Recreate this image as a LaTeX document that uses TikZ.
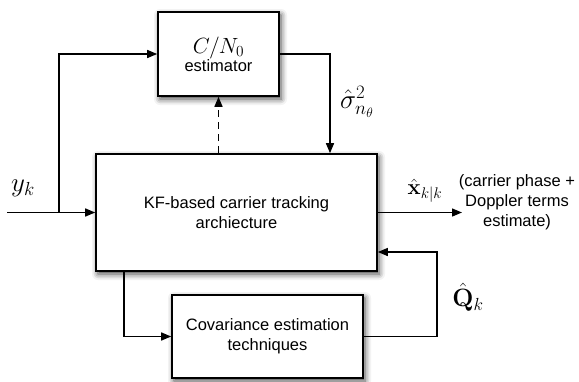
\documentclass[tikz,border=0pt]{standalone}
\usepackage{fix-cm}
\usepackage[no-math]{fontspec}
\setmainfont{Liberation Sans}
\usepackage{amsmath}
\usetikzlibrary{arrows.meta,shadows.blur}

\tikzset{
  block/.style={draw, line width=1.6pt, fill=white, inner sep=0pt,
    align=center, font=\fontsize{16.5}{20}\selectfont,
    blur shadow={shadow xshift=2pt, shadow yshift=-3pt,
      shadow blur radius=6pt, shadow opacity=75}},
  arr/.style={line width=1.4pt, -{Triangle[length=10pt,width=8pt]}},
  mathlbl/.style={inner sep=0pt, font=\fontsize{22}{26}\selectfont},
  txt/.style={inner sep=0pt, align=center, font=\fontsize{16.5}{20}\selectfont}
}

\begin{document}
\begin{tikzpicture}[x=1pt, y=-1pt]
  \useasboundingbox (0,0) rectangle (579,381);

  % blocks
  \node[block, minimum width=121pt, minimum height=84pt] (est) at (218.5,54)
    {{\fontsize{22}{26}\selectfont$C/N_0$}\\[-2pt]estimator};
  \node[block, minimum width=281pt, minimum height=117pt] (kf) at (236.5,212.5)
    {KF-based carrier tracking\\archiecture};
  \node[block, minimum width=191pt, minimum height=83pt] (cov) at (267.5,336.5)
    {Covariance estimation\\techniques};

  % helper points
  \coordinate (in)   at (7,212.5);
  \coordinate (fork) at (59,212.5);
  \coordinate (sdown) at (330,54);
  \coordinate (out)  at (462,212.5);
  \coordinate (qturn) at (437,252);
  \coordinate (kfdown) at (124,271);

  % input signal and branch to the C/N0 estimator
  \draw[arr] (in) -- (kf.west);
  \draw[arr] (fork) |- (est.west);

  % dashed link from the tracking loop to the estimator
  \draw[arr, dashed, dash pattern=on 7pt off 5pt] (est.south |- kf.north) -- (est.south);

  % noise variance fed back into the tracking loop
  \draw[arr] (est.east) -| (sdown |- kf.north);

  % state estimate output
  \draw[arr] (kf.east) -- (out);

  % covariance estimation loop
  \draw[arr] (kfdown) |- (cov.west);
  \draw[arr] (cov.east) -| (qturn) -- (qturn -| kf.east);

  % labels
  \node[mathlbl, font=\fontsize{27}{30}\selectfont] (ylbl) at (23,188) {$y_k$};
  \node[mathlbl, font=\fontsize{27}{30}\selectfont] (slbl) at (357,102) {$\hat{\sigma}^2_{n_\theta}$};
  \node[mathlbl] (xlbl) at (425,191) {$\hat{\mathbf{x}}_{k|k}$};
  \node[mathlbl, font=\fontsize{25}{28}\selectfont] (qlbl) at (468,297) {$\hat{\mathbf{Q}}_k$};
  \node[txt] (outtxt) at (517,202) {(carrier phase +\\Doppler terms\\estimate)};
\end{tikzpicture}
\end{document}
